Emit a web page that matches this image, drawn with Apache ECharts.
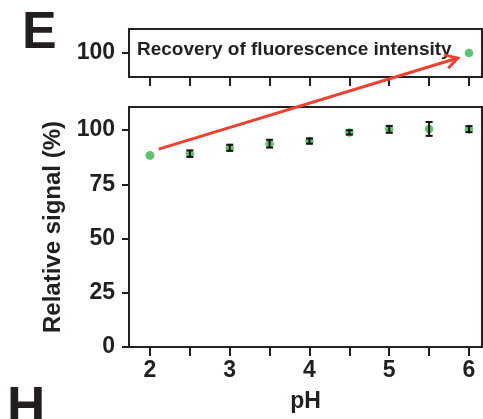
<!DOCTYPE html>
<html>
<head>
<meta charset="utf-8">
<script src="https://cdn.jsdelivr.net/npm/echarts@6/dist/echarts.min.js"></script>
<style>html,body{margin:0;padding:0;background:#fff}#c{width:483px;height:419px}</style>
</head>
<body>
<div id="c"></div>
<script>
// ---- data ----
const phValues = [2, 2.5, 3, 3.5, 4, 4.5, 5, 5.5, 6];
const signalValues = [88.3, 89.1, 91.8, 93.7, 94.9, 98.9, 100.3, 100.5, 100.4];
const signalErrors = [0, 1.5, 1.4, 1.8, 1.2, 1.0, 1.6, 3.2, 1.4];
const recoveryPh = [6];
const recoveryValues = [100];
const xTickValues = [2, 2.5, 3, 3.5, 4, 4.5, 5, 5.5, 6];
const xLabelValues = [2, 3, 4, 5, 6];
const yTickValues = [0, 25, 50, 75, 100];
const topTickValues = [100];
const arrowFrom = [2.11, 91.2];   // main panel data coords
const arrowTo = [5.86, 97.9];     // top panel data coords

const FONT = "'Liberation Sans', Arial, Helvetica, sans-serif";
const INK = '#231f20';
const GREEN = '#39b44a';
const RED = '#ee4130';

const chart = echarts.init(document.getElementById('c'), null, {renderer: 'canvas'});

const mainData = phValues.map((p, i) => [p, signalValues[i], signalErrors[i]]);

const option = {
  animation: false,
  backgroundColor: '#fff',
  textStyle: {fontFamily: FONT},
  title: [
    {text: 'E', left: 17, top: 3, textStyle: {fontSize: 52, fontWeight: 'bold', color: INK, fontFamily: FONT}},
    {text: 'H', left: 2, top: 378, textStyle: {fontSize: 53, fontWeight: 'bold', color: INK, fontFamily: FONT}},
    {text: 'Recovery of fluorescence intensity', left: 132, top: 35,
     textStyle: {fontSize: 19, fontWeight: 'bold', color: INK, fontFamily: FONT}}
  ],
  grid: [
    {left: 129, top: 29, width: 353, height: 48, show: true, borderColor: INK, borderWidth: 2, backgroundColor: 'transparent'},
    {left: 129, top: 107, width: 353, height: 240, show: true, borderColor: INK, borderWidth: 2, backgroundColor: 'transparent'}
  ],
  xAxis: [
    {gridIndex: 0, type: 'value', min: 1.737, max: 6.163,
     axisLine: {show: true, lineStyle: {color: INK, width: 2}},
     axisTick: {show: true, length: 9, lineStyle: {color: INK, width: 2}, customValues: xTickValues},
     axisLabel: {show: false}, splitLine: {show: false}},
    {gridIndex: 1, type: 'value', min: 1.737, max: 6.163,
     name: 'pH', nameLocation: 'middle', nameGap: 43,
     nameTextStyle: {fontSize: 23, fontWeight: 'bold', color: INK, fontFamily: FONT},
     axisLine: {show: true, lineStyle: {color: INK, width: 2}},
     axisTick: {show: true, length: 9, lineStyle: {color: INK, width: 2}, customValues: xTickValues},
     axisLabel: {show: true, customValues: xLabelValues, margin: 12, fontSize: 23, fontWeight: 'bold', color: INK, fontFamily: FONT},
     splitLine: {show: false}}
  ],
  yAxis: [
    {gridIndex: 0, type: 'value', min: 90, max: 110,
     axisLine: {show: true, lineStyle: {color: INK, width: 2}},
     axisTick: {show: true, length: 7, lineStyle: {color: INK, width: 2}, customValues: topTickValues},
     axisLabel: {show: true, customValues: topTickValues, margin: 14, fontSize: 23, fontWeight: 'bold', color: INK, fontFamily: FONT},
     splitLine: {show: false}},
    {gridIndex: 1, type: 'value', min: 0, max: 110.6,
     name: 'Relative signal (%)', nameLocation: 'middle', nameGap: 64,
     nameTextStyle: {fontSize: 24, fontWeight: 'bold', color: INK, fontFamily: FONT},
     axisLine: {show: true, lineStyle: {color: INK, width: 2}},
     axisTick: {show: true, length: 7, lineStyle: {color: INK, width: 2}, customValues: yTickValues},
     axisLabel: {show: true, customValues: yTickValues, margin: 14, fontSize: 23, fontWeight: 'bold', color: INK, fontFamily: FONT},
     splitLine: {show: false}}
  ],
  series: [
    {type: 'scatter', xAxisIndex: 1, yAxisIndex: 1, z: 3,
     data: mainData.map(d => ({value: [d[0], d[1]], symbolSize: d[2] === 0 ? 9 : 8.5})),
     itemStyle: {color: GREEN}},
    {type: 'custom', xAxisIndex: 1, yAxisIndex: 1, z: 4,
     data: mainData,
     renderItem: function (params, api) {
       const x = api.value(0), y = api.value(1), e = api.value(2);
       if (!e) return null;
       const t = api.coord([x, y + e]);
       const b = api.coord([x, y - e]);
       const hw = 3.5;
       const st = {stroke: '#111', lineWidth: 2};
       return {type: 'group', children: [
         {type: 'line', shape: {x1: t[0], y1: t[1], x2: b[0], y2: b[1]}, style: st},
         {type: 'line', shape: {x1: t[0] - hw, y1: t[1], x2: t[0] + hw, y2: t[1]}, style: st},
         {type: 'line', shape: {x1: b[0] - hw, y1: b[1], x2: b[0] + hw, y2: b[1]}, style: st}
       ]};
     }},
    {type: 'scatter', xAxisIndex: 0, yAxisIndex: 0, z: 3, symbolSize: 8.5,
     data: recoveryPh.map((p, i) => [p, recoveryValues[i]]),
     itemStyle: {color: GREEN}}
  ]
};

chart.setOption(option);

// red annotation arrow, positioned from data coordinates
const p0 = chart.convertToPixel({gridIndex: 1}, arrowFrom);
const p1 = chart.convertToPixel({gridIndex: 0}, arrowTo);
const ang = Math.atan2(p1[1] - p0[1], p1[0] - p0[0]);
const headLen = 14, headAng = Math.PI / 6;
const a1 = [p1[0] - headLen * Math.cos(ang - headAng), p1[1] - headLen * Math.sin(ang - headAng)];
const a2 = [p1[0] - headLen * Math.cos(ang + headAng), p1[1] - headLen * Math.sin(ang + headAng)];
chart.setOption({
  graphic: [
    {type: 'line', z: 10, shape: {x1: p0[0], y1: p0[1], x2: p1[0], y2: p1[1]}, style: {stroke: RED, lineWidth: 3, lineCap: 'butt'}},
    {type: 'polyline', z: 10, shape: {points: [a1, p1, a2]}, style: {stroke: RED, lineWidth: 3, fill: null, lineJoin: 'miter'}}
  ]
});
</script>
</body>
</html>
